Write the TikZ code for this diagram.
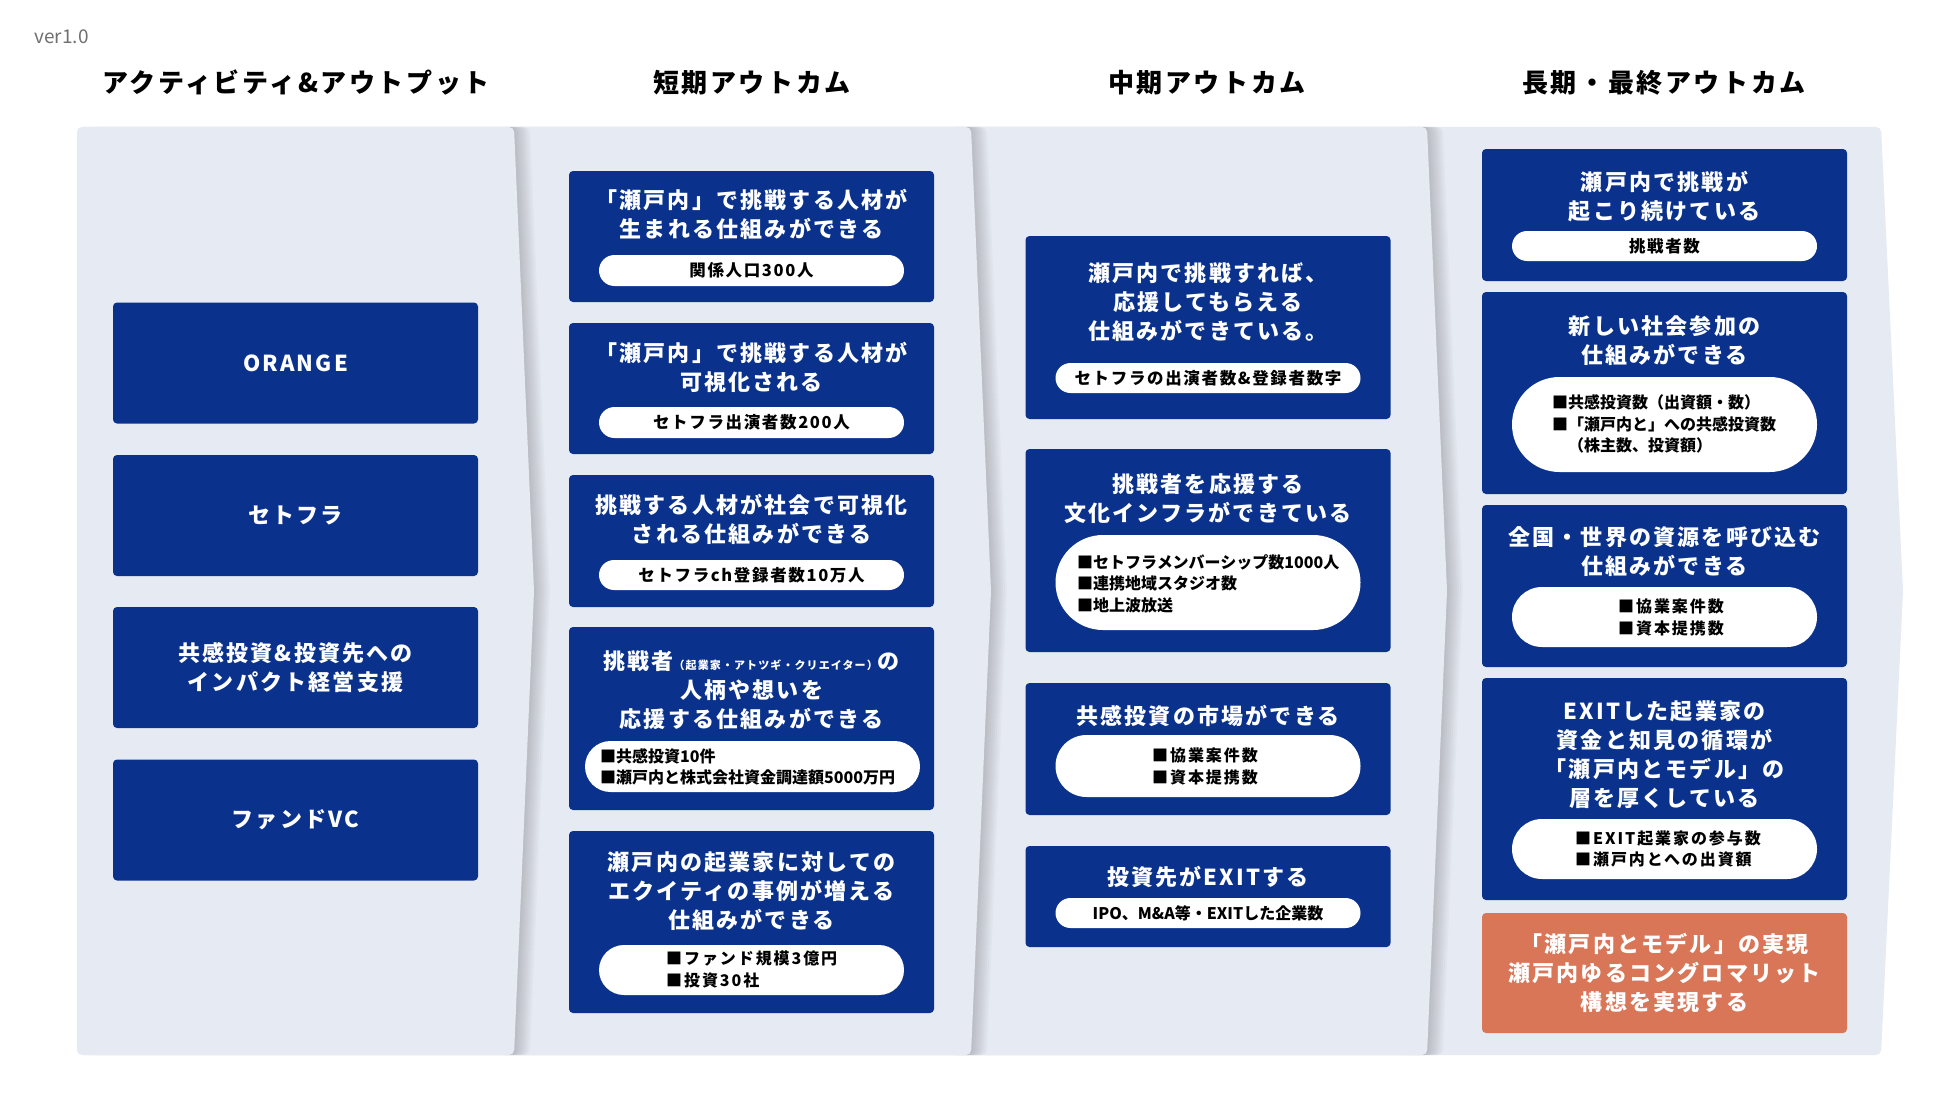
\documentclass[tikz,border=0pt]{standalone}
\usepackage{fontspec}
\setmainfont{Noto Sans CJK JP}
\newfontfamily\jpwide[LetterSpace=10]{Noto Sans CJK JP}
\newfontfamily\jpplain{Noto Sans CJK JP}
\newfontfamily\jpmid[LetterSpace=12]{Noto Sans CJK JP}
\usetikzlibrary{positioning, calc}
\definecolor{navyCard}{HTML}{0A328C}
\definecolor{panelFill}{HTML}{E6EAF3}
\definecolor{goalOrange}{HTML}{D97658}
\definecolor{inkGray}{HTML}{707070}
\tikzset{
  colhead/.style={font=\jpwide\bfseries\fontsize{26}{30}\selectfont, text=black},
  card/.style={fill=navyCard, rounded corners=4pt, minimum width=365pt, inner sep=0pt,
               text=white, align=center, font=\jpwide\bfseries\fontsize{22}{29}\selectfont},
  goal/.style={card, fill=goalOrange},
  cardtitle/.style={text=white, align=center, inner sep=0pt,
                    font=\jpwide\bfseries\fontsize{22}{29}\selectfont},
  pill/.style={fill=white, minimum width=305pt, minimum height=#1, rounded corners=#1/2,
               inner sep=0pt, text=black, font=\jpwide\bfseries\fontsize{16.5}{20}\selectfont},
  metric/.style={anchor=west, align=left, inner sep=0pt, text=black,
                 font=\jpplain\bfseries\fontsize{16}{21.5}\selectfont},
  metricw/.style={metric, font=\jpmid\bfseries\fontsize{16}{21.5}\selectfont},
}

\begin{document}
\begin{tikzpicture}[x=1pt, y=-1pt]
\useasboundingbox[fill=white] (0,0) rectangle (1950,1097);

\foreach \L/\R/\P/\op in {1400/1881/1903/0, 950/1427/1447/0.025, 500/971/991/0.025, 77/514/534/0.025}{
  \foreach \s in {2,4,...,16}
    \fill[black, opacity=\op, rounded corners=5pt]
      (\L+\s,127) -- (\R+\s,127) -- (\P+\s,591) -- (\R+\s,1055) -- (\L+\s,1055) -- cycle;
  \fill[panelFill, rounded corners=5pt]
    (\L,127) -- (\R,127) -- (\P,591) -- (\R,1055) -- (\L,1055) -- cycle;
}

\node[anchor=west, text=inkGray, font=\jpplain\fontsize{19}{19}\selectfont] (ver) at (31,37) {ver1.0};

\node[colhead] (h1) at (296,83) {アクティビティ\&アウトプット};
\node[colhead] (h2) at (752,83) {短期アウトカム};
\node[colhead] (h3) at (1207,83) {中期アウトカム};
\node[colhead] (h4) at (1664,83) {長期・最終アウトカム};

\node[card, minimum height=121pt] (a1) at (295.5,363) {ORANGE};
\node[card, minimum height=121pt] (a2) at (295.5,515.5) {セトフラ};
\node[card, minimum height=121pt] (a3) at (295.5,667.5) {共感投資\&投資先への\\インパクト経営支援};
\node[card, minimum height=121pt] (a4) at (295.5,820) {ファンドVC};

\node[card, minimum height=131pt] (s1) at (751.5,236.5) {};
\node[cardtitle] (s1t) at (751.5,214) {「瀬戸内」で挑戦する人材が\\生まれる仕組みができる};
\node[pill=31pt] (s1p) at (751.5,270.5) {関係人口300人};
\node[card, minimum height=131pt] (s2) at (751.5,388.5) {};
\node[cardtitle] (s2t) at (751.5,367) {「瀬戸内」で挑戦する人材が\\可視化される};
\node[pill=31pt] (s2p) at (751.5,422.5) {セトフラ出演者数200人};
\node[card, minimum height=132pt] (s3) at (751.5,541) {};
\node[cardtitle] (s3t) at (751.5,519) {挑戦する人材が社会で可視化\\される仕組みができる};
\node[pill=30pt] (s3p) at (751.5,575) {セトフラch登録者数10万人};
\node[card, minimum height=183pt] (s4) at (751.5,718.5) {};
\node[cardtitle] (s4t) at (751.5,690)
  {挑戦者{\fontsize{11}{11}\selectfont（起業家・アトツギ・クリエイター）}の\\人柄や想いを\\応援する仕組みができる};
\node[pill=51pt, minimum width=335pt] (s4p) at (752.5,766.5) {};
\node[metric] (s4m) at (600,767) {■共感投資10件\\■瀬戸内と株式会社資金調達額5000万円};
\node[card, minimum height=182pt] (s5) at (751.5,922) {};
\node[cardtitle] (s5t) at (751.5,891.5) {瀬戸内の起業家に対しての\\エクイティの事例が増える\\仕組みができる};
\node[pill=50pt] (s5p) at (751.5,970) {};
\node[metricw] (s5m) at (666,969.5) {■ファンド規模3億円\\■投資30社};

\node[card, minimum height=183pt] (m1) at (1208,327.5) {};
\node[cardtitle] (m1t) at (1208,302.5) {瀬戸内で挑戦すれば、\\応援してもらえる\\仕組みができている。};
\node[pill=30pt] (m1p) at (1208,378) {セトフラの出演者数\&登録者数字};
\node[card, minimum height=203pt] (m2) at (1208,550.5) {};
\node[cardtitle] (m2t) at (1208,499) {挑戦者を応援する\\文化インフラができている};
\node[pill=95pt] (m2p) at (1208,582.5) {};
\node[metric] (m2m) at (1077,583.5) {■セトフラメンバーシップ数1000人\\■連携地域スタジオ数\\■地上波放送};
\node[card, minimum height=132pt] (m3) at (1208,749) {};
\node[cardtitle] (m3t) at (1208,716) {共感投資の市場ができる};
\node[pill=62pt] (m3p) at (1208,766) {};
\node[metricw] (m3m) at (1152,766.5) {■協業案件数\\■資本提携数};
\node[card, minimum height=101pt] (m4) at (1208,896.5) {};
\node[cardtitle] (m4t) at (1208,877) {投資先がEXITする};
\node[pill=30pt, font=\jpplain\bfseries\fontsize{16}{20}\selectfont] (m4p) at (1208,913) {IPO、M\&A等・EXITした企業数};

\node[card, minimum height=132pt] (l1) at (1664.5,215) {};
\node[cardtitle] (l1t) at (1664.5,196.5) {瀬戸内で挑戦が\\起こり続けている};
\node[pill=30pt] (l1p) at (1664.5,246) {挑戦者数};
\node[card, minimum height=202pt] (l2) at (1664.5,393) {};
\node[cardtitle] (l2t) at (1664.5,341) {新しい社会参加の\\仕組みができる};
\node[pill=95pt] (l2p) at (1664.5,424.5) {};
\node[metric] (l2m) at (1552,424) {■共感投資数（出資額・数）\\■「瀬戸内と」への共感投資数\\\phantom{■}（株主数、投資額）};
\node[card, minimum height=162pt] (l3) at (1664.5,586) {};
\node[cardtitle] (l3t) at (1664.5,552) {全国・世界の資源を呼び込む\\仕組みができる};
\node[pill=60pt] (l3p) at (1664.5,617) {};
\node[metricw] (l3m) at (1618,617.5) {■協業案件数\\■資本提携数};
\node[card, minimum height=222pt] (l4) at (1664.5,789) {};
\node[cardtitle] (l4t) at (1664.5,755) {EXITした起業家の\\資金と知見の循環が\\「瀬戸内とモデル」の\\層を厚くしている};
\node[pill=60pt] (l4p) at (1664.5,849) {};
\node[metricw] (l4m) at (1575,849) {■EXIT起業家の参与数\\■瀬戸内とへの出資額};
\node[goal, minimum height=120pt] (l5) at (1664.5,973) {「瀬戸内とモデル」の実現\\瀬戸内ゆるコングロマリット\\構想を実現する};
\end{tikzpicture}
\end{document}
